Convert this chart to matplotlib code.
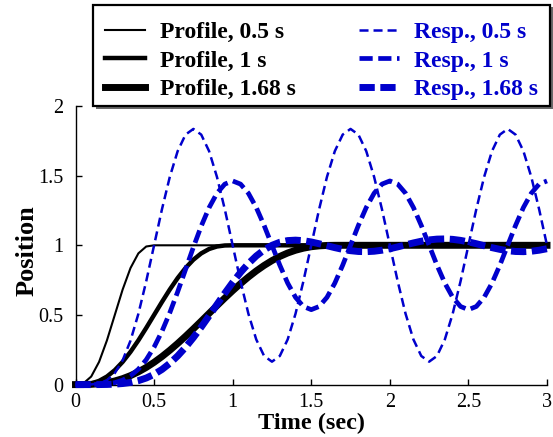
import matplotlib
matplotlib.use("Agg")
import matplotlib.pyplot as plt
from matplotlib.patches import Rectangle

# ---------------- data ----------------
time = [0.00, 0.05, 0.10, 0.15, 0.20, 0.25, 0.30, 0.35, 0.40, 0.45,
        0.50, 0.55, 0.60, 0.65, 0.70, 0.75, 0.80, 0.85, 0.90, 0.95,
        1.00, 1.05, 1.10, 1.15, 1.20, 1.25, 1.30, 1.35, 1.40, 1.45,
        1.50, 1.55, 1.60, 1.65, 1.70, 1.75, 1.80, 1.85, 1.90, 1.95,
        2.00, 2.05, 2.10, 2.15, 2.20, 2.25, 2.30, 2.35, 2.40, 2.45,
        2.50, 2.55, 2.60, 2.65, 2.70, 2.75, 2.80, 2.85, 2.90, 2.95,
        3.00]

profile_05 = [0.0, 0.0086, 0.0579, 0.1631, 0.3174, 0.5, 0.6826, 0.8369, 0.9421, 0.9914,
              1.0, 1.0, 1.0, 1.0, 1.0, 1.0, 1.0, 1.0, 1.0, 1.0,
              1.0, 1.0, 1.0, 1.0, 1.0, 1.0, 1.0, 1.0, 1.0, 1.0,
              1.0, 1.0, 1.0, 1.0, 1.0, 1.0, 1.0, 1.0, 1.0, 1.0,
              1.0, 1.0, 1.0, 1.0, 1.0, 1.0, 1.0, 1.0, 1.0, 1.0,
              1.0, 1.0, 1.0, 1.0, 1.0, 1.0, 1.0, 1.0, 1.0, 1.0,
              1.0]

profile_1 = [0.0, 0.0012, 0.0086, 0.0266, 0.0579, 0.1035, 0.1631, 0.2352, 0.3174, 0.4069,
             0.5, 0.5931, 0.6826, 0.7648, 0.8369, 0.8965, 0.9421, 0.9734, 0.9914, 0.9988,
             1.0, 1.0, 1.0, 1.0, 1.0, 1.0, 1.0, 1.0, 1.0, 1.0,
             1.0, 1.0, 1.0, 1.0, 1.0, 1.0, 1.0, 1.0, 1.0, 1.0,
             1.0, 1.0, 1.0, 1.0, 1.0, 1.0, 1.0, 1.0, 1.0, 1.0,
             1.0, 1.0, 1.0, 1.0, 1.0, 1.0, 1.0, 1.0, 1.0, 1.0,
             1.0]

profile_168 = [0.0, 0.0003, 0.0019, 0.0062, 0.0140, 0.0260, 0.0428, 0.0645, 0.0914, 0.1232,
               0.1599, 0.2011, 0.2464, 0.2951, 0.3466, 0.4003, 0.4554, 0.5112, 0.5667, 0.6214,
               0.6743, 0.7248, 0.7722, 0.8159, 0.8553, 0.8901, 0.9200, 0.9448, 0.9645, 0.9793,
               0.9896, 0.9959, 0.9990, 0.9999, 1.0, 1.0, 1.0, 1.0, 1.0, 1.0,
               1.0, 1.0, 1.0, 1.0, 1.0, 1.0, 1.0, 1.0, 1.0, 1.0,
               1.0, 1.0, 1.0, 1.0, 1.0, 1.0, 1.0, 1.0, 1.0, 1.0,
               1.0]

resp_05 = [0.0, 0.0000, 0.0013, 0.0085, 0.0313, 0.0823, 0.1742, 0.3156, 0.5077, 0.7418,
           1.0, 1.2582, 1.4910, 1.6759, 1.7945, 1.8354, 1.7945, 1.6759, 1.4910, 1.2582,
           1.0, 0.7418, 0.5090, 0.3241, 0.2055, 0.1646, 0.2055, 0.3241, 0.5090, 0.7418,
           1.0, 1.2582, 1.4910, 1.6759, 1.7945, 1.8354, 1.7945, 1.6759, 1.4910, 1.2582,
           1.0, 0.7418, 0.5090, 0.3241, 0.2055, 0.1646, 0.2055, 0.3241, 0.5090, 0.7418,
           1.0, 1.2582, 1.4910, 1.6759, 1.7945, 1.8354, 1.7945, 1.6759, 1.4910, 1.2582,
           1.0]

resp_1 = [0.0, 0.0000, 0.0002, 0.0013, 0.0049, 0.0139, 0.0318, 0.0626, 0.1104, 0.1785,
          0.2690, 0.3821, 0.5159, 0.6659, 0.8255, 0.9861, 1.1378, 1.2703, 1.3736, 1.4394,
          1.4620, 1.4394, 1.3737, 1.2715, 1.1428, 1.0, 0.8572, 0.7285, 0.6263, 0.5606,
          0.5380, 0.5606, 0.6263, 0.7285, 0.8572, 1.0, 1.1428, 1.2715, 1.3737, 1.4394,
          1.4620, 1.4394, 1.3737, 1.2715, 1.1428, 1.0, 0.8572, 0.7285, 0.6263, 0.5606,
          0.5380, 0.5606, 0.6263, 0.7285, 0.8572, 1.0, 1.1428, 1.2715, 1.3737, 1.4394,
          1.4620]

resp_168 = [0.0, 0.0000, 0.0000, 0.0003, 0.0011, 0.0033, 0.0077, 0.0156, 0.0283, 0.0472,
            0.0736, 0.1085, 0.1525, 0.2057, 0.2677, 0.3374, 0.4133, 0.4933, 0.5751, 0.6560,
            0.7335, 0.8052, 0.8690, 0.9233, 0.9671, 0.9998, 1.0218, 1.0338, 1.0370, 1.0331,
            1.0239, 1.0112, 0.9971, 0.9831, 0.9708, 0.9613, 0.9556, 0.9543, 0.9574, 0.9647,
            0.9755, 0.9886, 1.0029, 1.0169, 1.0292, 1.0387, 1.0444, 1.0457, 1.0426, 1.0353,
            1.0245, 1.0114, 0.9971, 0.9831, 0.9708, 0.9613, 0.9556, 0.9543, 0.9574, 0.9647,
            0.9755]

profile_labels = ["Profile, 0.5 s", "Profile, 1 s", "Profile, 1.68 s"]
resp_labels = ["Resp., 0.5 s", "Resp., 1 s", "Resp., 1.68 s"]
x_ticks = [0, 0.5, 1, 1.5, 2, 2.5, 3]
x_ticklabels = ["0", "0.5", "1", "1.5", "2", "2.5", "3"]
y_ticks = [0, 0.5, 1, 1.5, 2]
y_ticklabels = ["0", "0.5", "1", "1.5", "2"]

# ---------------- figure ----------------
plt.rcParams['font.family'] = ['Liberation Serif', 'DejaVu Serif']
plt.rcParams['lines.scale_dashes'] = False

W, H = 553, 437
fig = plt.figure(figsize=(W / 100, H / 100), dpi=100)
x0, x1 = 75.5, 547.0
y0, y1 = 384.6, 106.0
ax = fig.add_axes([x0 / W, 1 - y0 / H, (x1 - x0) / W, (y0 - y1) / H])

BLUE = "#0000cc"
prof_lw = [1.5, 3.2, 5.0]
resp_lw = [1.8, 3.4, 5.0]
resp_dash = [(6.5, 3.6), (9.5, 4.0), (11.0, 4.0)]

handles = []
for data, lw, lab in zip([profile_05, profile_1, profile_168], prof_lw, profile_labels):
    h, = ax.plot(time, data, color="black", lw=lw, solid_capstyle="projecting",
                 clip_on=False, label=lab, zorder=2)
    handles.append(h)
for data, lw, ds, lab in zip([resp_05, resp_1, resp_168], resp_lw, resp_dash, resp_labels):
    h, = ax.plot(time, data, color=BLUE, lw=lw, dashes=ds, clip_on=False,
                 label=lab, zorder=3)
    handles.append(h)

ax.set_xlim(0, 3)
ax.set_ylim(0, 2)
ax.set_xticks(x_ticks)
ax.set_xticklabels(x_ticklabels)
ax.set_yticks(y_ticks)
ax.set_yticklabels(y_ticklabels)
ax.spines["top"].set_visible(False)
ax.spines["right"].set_visible(False)
for s in ("left", "bottom"):
    ax.spines[s].set_linewidth(1.0)
ax.tick_params(axis="both", direction="in", length=4, width=1.0, labelsize=14.5)
ax.tick_params(axis="x", pad=5.8)
ax.tick_params(axis="y", pad=9.0)

ax.set_xlabel("Time (sec)", fontsize=17.5, fontweight="bold", va="baseline")
ax.xaxis.set_label_coords(0.5, (y0 - 429) / (y0 - y1))
ax.set_ylabel("Position", fontsize=19, fontweight="bold", va="baseline")
ax.yaxis.set_label_coords((33.3 - x0) / (x1 - x0), (y0 - 250.6) / (y0 - y1))

# legend frame (drawn separately for exact placement) with its shadow
lx0, lx1, ly0, ly1 = 93, 550, 5, 106
shadow = Rectangle(((lx0 + 2.5) / W, 1 - (ly1 + 2.5) / H), (lx1 - lx0) / W, (ly1 - ly0) / H,
                   transform=fig.transFigure, facecolor="0.35", edgecolor="none",
                   alpha=0.9, zorder=3)
frame = Rectangle((lx0 / W, 1 - ly1 / H), (lx1 - lx0) / W, (ly1 - ly0) / H,
                  transform=fig.transFigure, facecolor="white", edgecolor="black",
                  linewidth=1.6, zorder=4)
fig.add_artist(shadow)
fig.add_artist(frame)

leg = fig.legend(handles=handles, ncol=2, loc="upper left",
                 bbox_to_anchor=(lx0 / W, 1 - ly1 / H, (lx1 - lx0) / W, (ly1 - 10) / H),
                 mode="expand", borderaxespad=0,
                 prop={"weight": "bold", "size": 17},
                 handlelength=1.7, handletextpad=0.64, labelspacing=0.29,
                 borderpad=0.5, frameon=False)
leg.set_zorder(5)
for t in leg.get_texts()[3:]:
    t.set_color(BLUE)

fig.savefig("out.png", dpi=100)
